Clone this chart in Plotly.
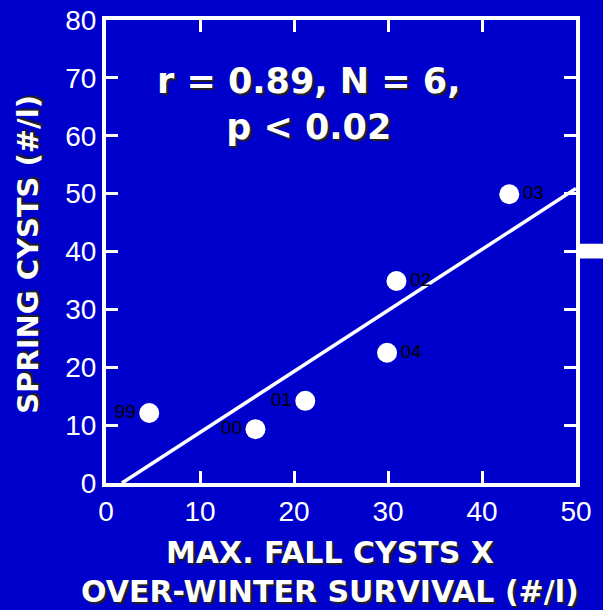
import plotly.graph_objects as go

# data
years = ["99", "00", "01", "02", "04", "03"]
fall_x_survival = [4.6, 15.9, 21.2, 30.9, 29.9, 42.9]
spring_cysts = [12.1, 9.3, 14.2, 34.9, 22.5, 49.9]
fit_x = [1.7, 50]
fit_y = [0, 50.9]
label_pos = ["middle left", "middle left", "middle left", "middle right", "middle right", "middle right"]
x_title_lines = ["MAX. FALL CYSTS X", "OVER-WINTER SURVIVAL (#/l)"]
y_title = "SPRING CYSTS (#/l)"

BG = "#0000CC"
TITLE_FONT = "DejaVu Sans, sans-serif"
SHADOW = "2px 2px 1px #222"
tfont = dict(family=TITLE_FONT, size=30, color="white", weight="bold", shadow=SHADOW)

fig = go.Figure()
fig.add_trace(go.Scatter(x=fit_x, y=fit_y, mode="lines",
                         line=dict(color="white", width=3.5), hoverinfo="skip"))
fig.add_trace(go.Scatter(x=fall_x_survival, y=spring_cysts, mode="markers+text",
                         text=years, textposition=label_pos,
                         textfont=dict(family="Liberation Sans, Arial", size=19, color="black"),
                         marker=dict(color="white", size=20, line=dict(width=0))))

fig.add_annotation(x=0.43, y=0.818, xref="paper", yref="paper", xanchor="center", yanchor="middle",
                   text="r = 0.89, N = 6,<br>p < 0.02", showarrow=False,
                   font=dict(family=TITLE_FONT, size=35, color="white", weight="bold", shadow=SHADOW),
                   align="center")

# axis titles as annotations
fig.add_annotation(x=0.477, y=-0.151, xref="paper", yref="paper", xanchor="center", yanchor="middle",
                   text=x_title_lines[0], showarrow=False, font=tfont)
fig.add_annotation(x=0.477, y=-0.235, xref="paper", yref="paper", xanchor="center", yanchor="middle",
                   text=x_title_lines[1], showarrow=False, font=tfont)
fig.add_annotation(x=-0.166, y=0.495, xref="paper", yref="paper", xanchor="center", yanchor="middle",
                   text=y_title, textangle=-90, showarrow=False,
                   font=dict(family=TITLE_FONT, size=29, color="white", weight="bold", shadow=SHADOW))

# white stub on right edge
fig.add_shape(type="rect", xref="paper", yref="paper", x0=1.0, x1=1.1, y0=0.485, y1=0.517,
              fillcolor="white", line=dict(width=0), layer="above")

axis_common = dict(showline=True, linecolor="white", linewidth=4, mirror="ticks",
                   ticks="inside", ticklen=12, tickwidth=3, tickcolor="white",
                   showgrid=False, zeroline=False, automargin=False,
                   tickfont=dict(family="Liberation Sans, Arial", size=28, color="white"))

fig.update_layout(
    width=603, height=610,
    margin=dict(l=106, r=27, t=20, b=127),
    paper_bgcolor=BG, plot_bgcolor=BG,
    showlegend=False,
    xaxis=dict(range=[0, 50], dtick=10, **axis_common),
    yaxis=dict(range=[0, 80], dtick=10, **axis_common),
)

fig.write_html("out.html")
